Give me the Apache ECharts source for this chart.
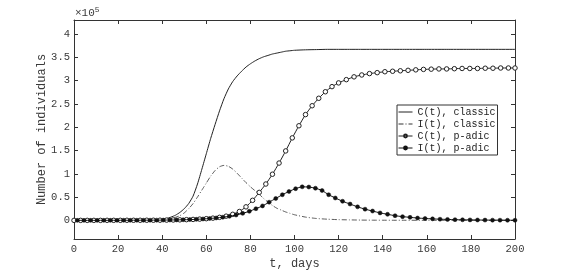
<!DOCTYPE html>
<html><head><meta charset="utf-8">
<script src="https://cdn.jsdelivr.net/npm/echarts@6/dist/echarts.min.js"></script>
<style>html,body{margin:0;padding:0;background:#fff}#c{width:570px;height:271px}</style>
</head><body><div id="c"></div>
<script>
// values in units of 1e5 individuals
const tClassic = [0,5,10,15,20,25,30,35,38,40,42,44,46,48,50,52,54,56,58,60,62,64,66,68,70,72,74,76,78,80,82,84,86,88,90,92,94,96,98,100,105,110,115,120,125,130,135,140,145,150,160,170,180,190,200];
const cClassic = [0,0,0,0,0,0.001,0.003,0.007,0.012,0.02,0.04,0.07,0.11,0.17,0.25,0.36,0.52,0.78,1.1,1.43,1.76,2.06,2.35,2.61,2.82,2.98,3.1,3.2,3.29,3.36,3.42,3.47,3.51,3.54,3.57,3.59,3.61,3.63,3.64,3.65,3.66,3.665,3.67,3.67,3.67,3.67,3.67,3.67,3.67,3.67,3.67,3.67,3.67,3.67,3.67];
const iClassic = [0,0,0,0,0,0.001,0.002,0.004,0.008,0.015,0.025,0.04,0.065,0.1,0.16,0.25,0.36,0.5,0.65,0.8,0.95,1.07,1.15,1.18,1.16,1.1,1.01,0.91,0.81,0.72,0.64,0.56,0.47,0.39,0.32,0.26,0.22,0.18,0.15,0.12,0.07,0.04,0.025,0.015,0.01,0.006,0.004,0.003,0.002,0.002,0.001,0.001,0,0,0];

const tPadicC = [0,3,6,9,12,15,18,21,24,27,30,33,36,39,42,45,48,51,54,57,60,63,66,69,72,75,78,81,84,87,90,93,96,99,102,105,108,111,114,117,120,123.5,127,130.5,134,137.5,141,144.5,148,151.5,155,158.5,162,165.5,169,172.5,176,179.5,183,186.5,190,193.5,197,200];
const cPadic = [0,0,0,0,0,0.001,0.001,0.001,0.002,0.002,0.002,0.003,0.003,0.004,0.006,0.008,0.011,0.015,0.02,0.027,0.036,0.048,0.065,0.09,0.13,0.19,0.29,0.43,0.6,0.78,0.99,1.23,1.49,1.77,2.03,2.27,2.46,2.62,2.76,2.87,2.95,3.02,3.08,3.12,3.15,3.17,3.19,3.2,3.21,3.22,3.23,3.24,3.245,3.25,3.25,3.255,3.26,3.26,3.26,3.265,3.265,3.27,3.27,3.27];

const tPadicI = [1.5,4.5,7.5,10.5,13.5,16.5,19.5,22.5,25.5,28.5,31.5,34.5,37.5,40.5,43.5,46.5,49.5,52.5,55.5,58.5,61.5,64.5,67.5,70.5,73.5,76.5,79.5,82.5,85.5,88.5,91.5,94.5,97.5,100.5,103.5,106.5,109.5,112.5,115.5,118.5,121.8,125.2,128.6,132,135.4,138.8,142.2,145.6,149,152.4,155.8,159.2,162.6,166,169.4,172.8,176.2,179.6,183,186.4,189.8,193.2,196.6,200];
const iPadic = [0,0,0,0,0.001,0.001,0.001,0.002,0.002,0.003,0.003,0.004,0.005,0.006,0.008,0.01,0.013,0.017,0.022,0.03,0.04,0.052,0.068,0.088,0.115,0.15,0.195,0.25,0.31,0.39,0.47,0.55,0.62,0.68,0.72,0.715,0.69,0.64,0.55,0.48,0.41,0.35,0.29,0.24,0.2,0.16,0.13,0.1,0.08,0.065,0.05,0.04,0.032,0.025,0.02,0.015,0.012,0.01,0.008,0.006,0.005,0.004,0.003,0.002];

const seriesNames = ['C(t), classic','I(t), classic','C(t), p-adic','I(t), p-adic'];
const yTicks = [0,0.5,1,1.5,2,2.5,3,3.5,4];
const yLabels = ['0','0.5','1','1.5','2','2.5','3','3.5','4'];
const xLabel = 't, days';
const yLabel = 'Number of individuals';

const zip = (t, v) => t.map((x, i) => [x, v[i]]);
const F = '"Liberation Mono", "DejaVu Sans Mono", monospace';
const AX = '#333';
const TXT = '#3a3a3a';

const tickCommon = {show: true, inside: true, length: 4, lineStyle: {color: AX}};
const lineCommon = {show: true, onZero: false, lineStyle: {color: AX, width: 1}};

const chart = echarts.init(document.getElementById('c'), null, {renderer: 'canvas'});
chart.setOption({
  animation: false,
  backgroundColor: '#fff',
  grid: {left: 74, right: 55, top: 20, bottom: 32, containLabel: false, outerBoundsMode: 'none'},
  xAxis: [{
    type: 'value', min: 0, max: 200, interval: 20, position: 'bottom',
    name: xLabel, nameLocation: 'middle', nameGap: 19, nameMoveOverlap: false,
    nameTextStyle: {fontFamily: F, fontSize: 12, color: TXT},
    axisLine: lineCommon, axisTick: tickCommon,
    axisLabel: {fontFamily: F, fontSize: 10.5, color: TXT, margin: 5},
    splitLine: {show: false}
  }, {
    type: 'value', min: 0, max: 200, interval: 20, position: 'top',
    axisLine: lineCommon, axisTick: tickCommon,
    axisLabel: {show: false}, splitLine: {show: false}
  }],
  yAxis: [{
    type: 'value', min: -0.4, max: 4.3, position: 'left',
    name: yLabel, nameLocation: 'middle', nameGap: 26, nameMoveOverlap: false,
    nameTextStyle: {fontFamily: F, fontSize: 12, color: TXT},
    axisLine: lineCommon,
    axisTick: Object.assign({customValues: yTicks}, tickCommon),
    axisLabel: {fontFamily: F, fontSize: 10.5, color: TXT, margin: 4, customValues: yTicks,
      formatter: v => { const i = yTicks.indexOf(v); return i >= 0 ? yLabels[i] : ''; }},
    splitLine: {show: false}
  }, {
    type: 'value', min: -0.4, max: 4.3, position: 'right',
    axisLine: lineCommon,
    axisTick: Object.assign({customValues: yTicks}, tickCommon),
    axisLabel: {show: false}, splitLine: {show: false}
  }],
  legend: {
    orient: 'vertical', left: 397, top: 105, selectedMode: false,
    backgroundColor: '#fff', borderColor: AX, borderWidth: 1,
    padding: [1, 2, 1, 1], itemGap: 0, itemWidth: 14, itemHeight: 3.5,
    lineStyle: {width: 1},
    textStyle: {fontFamily: F, fontSize: 10, color: '#222', lineHeight: 12},
    data: [
      {name: seriesNames[0], itemStyle: {opacity: 0}},
      {name: seriesNames[1], itemStyle: {opacity: 0}},
      {name: seriesNames[2]},
      {name: seriesNames[3]}
    ]
  },
  graphic: [{
    type: 'text', left: 75, top: 6,
    style: {text: '×10{s|5}', fontFamily: F, fontSize: 11, fill: TXT,
      rich: {s: {fontFamily: F, fontSize: 8, verticalAlign: 'top', padding: [0,0,7,0], fill: TXT}}}
  }],
  series: [{
    name: seriesNames[0], type: 'line', data: zip(tClassic, cClassic),
    symbol: 'none', smooth: 0.2, lineStyle: {color: '#222', width: 1}, itemStyle: {color: '#222'}, z: 3
  }, {
    name: seriesNames[1], type: 'line', data: zip(tClassic, iClassic),
    symbol: 'none', smooth: 0.2, lineStyle: {color: '#333', width: 0.8, type: [5, 2, 1, 2]}, itemStyle: {color: '#333'}, z: 3
  }, {
    name: seriesNames[2], type: 'line', data: zip(tPadicC, cPadic),
    symbol: 'circle', symbolSize: 4.5, showSymbol: true, smooth: 0.2,
    lineStyle: {color: '#222', width: 1},
    itemStyle: {color: '#fff', borderColor: '#222', borderWidth: 1}, z: 4
  }, {
    name: seriesNames[3], type: 'line', data: zip(tPadicI, iPadic),
    symbol: 'circle', symbolSize: 4, showSymbol: true, smooth: 0.2,
    lineStyle: {color: '#111', width: 1},
    itemStyle: {color: '#111', borderColor: '#111', borderWidth: 0.5}, z: 5
  }]
});
</script></body></html>
